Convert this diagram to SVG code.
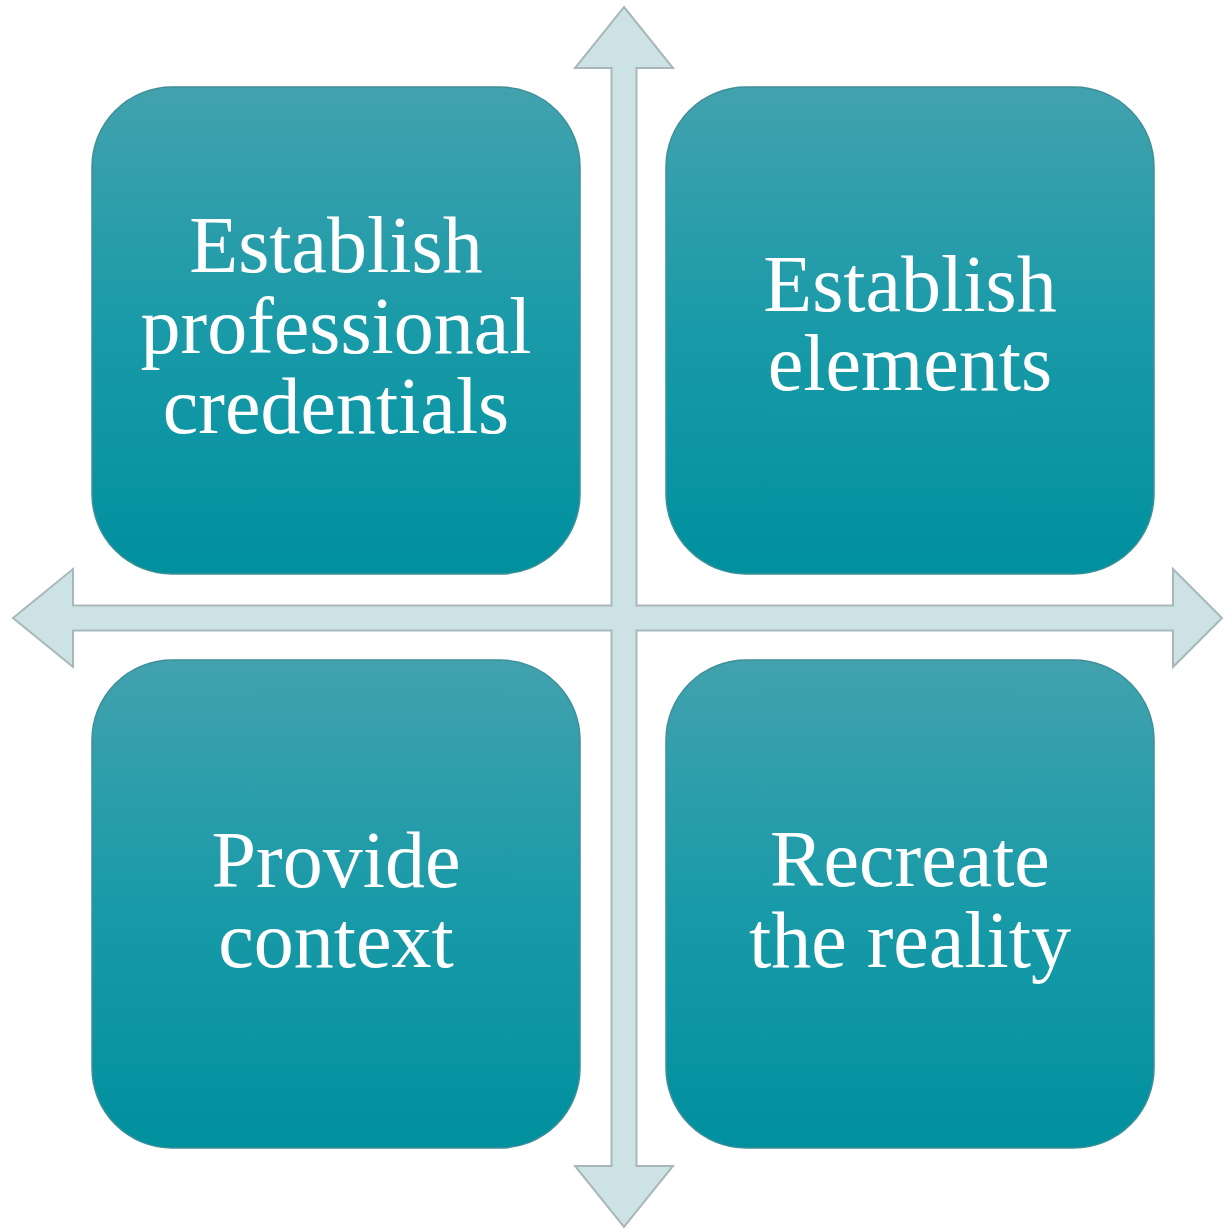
<svg xmlns="http://www.w3.org/2000/svg" width="1224" height="1229" viewBox="0 0 1224 1229">
<defs>
<linearGradient id="g" x1="0" y1="0" x2="0" y2="1">
<stop offset="0" stop-color="#42a2ae"/>
<stop offset="0.5" stop-color="#199aa8"/>
<stop offset="1" stop-color="#00909e"/>
</linearGradient>
<style>
.box{fill:url(#g);stroke:#3f8f98;stroke-width:1.5}
.lbl{fill:#ffffff;font-family:"Liberation Serif","Times New Roman",serif;font-size:80px;text-anchor:middle}
.arrow{fill:#cde2e5;stroke:#a8b8ba;stroke-width:2;stroke-linejoin:miter}
</style>
</defs>
<rect width="1224" height="1229" fill="#ffffff"/>
<g id="connectors">
<polygon class="arrow" points="624,7 673,68 636.5,68 636.5,605.5 1173,605.5 1173,569 1222,618 1173,667 1173,630.5 636.5,630.5 636.5,1166 673,1166 624,1227 575,1166 611.5,1166 611.5,630.5 73,630.5 73,667 13,618 73,569 73,605.5 611.5,605.5 611.5,68 575,68"/>
</g>
<g id="node-tl">
<rect class="box" x="92" y="87" width="488" height="487" rx="80" ry="80"/>
<text class="lbl" x="336" y="272">Establish</text>
<text class="lbl" x="336" y="353">professional</text>
<text class="lbl" x="336" y="433">credentials</text>
</g>
<g id="node-tr">
<rect class="box" x="666" y="87" width="488" height="487" rx="80" ry="80"/>
<text class="lbl" x="910" y="311">Establish</text>
<text class="lbl" x="910" y="390">elements</text>
</g>
<g id="node-bl">
<rect class="box" x="92" y="660" width="488" height="488" rx="80" ry="80"/>
<text class="lbl" x="336" y="887">Provide</text>
<text class="lbl" x="336" y="967">context</text>
</g>
<g id="node-br">
<rect class="box" x="666" y="660" width="488" height="488" rx="80" ry="80"/>
<text class="lbl" x="910" y="886">Recreate</text>
<text class="lbl" x="910" y="967">the reality</text>
</g>
</svg>
